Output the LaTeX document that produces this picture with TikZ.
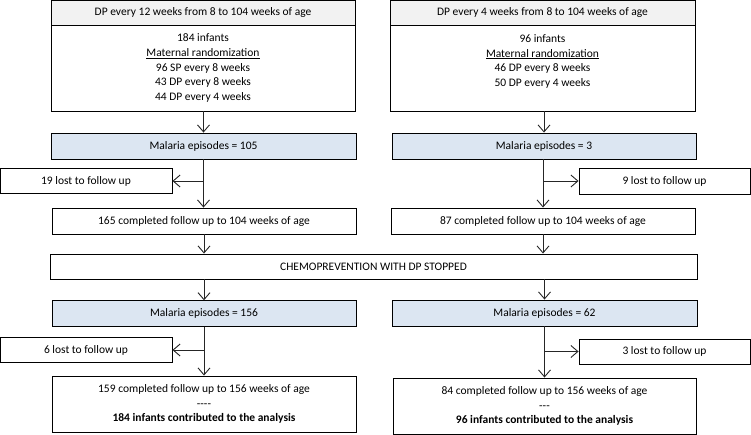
\documentclass[tikz,border=0pt]{standalone}
\usepackage{fontspec}
\setmainfont{Carlito}
\usetikzlibrary{arrows.meta,calc}
\definecolor{hdrgray}{HTML}{F2F2F2}
\definecolor{malblue}{HTML}{DCE6F2}
\begin{document}
\begin{tikzpicture}[x=1pt,y=-1pt,
  box/.style={draw=black,line width=0.9pt,fill=white,inner sep=0pt,align=center,
    font=\fontsize{11.5}{14.8}\selectfont},
  hdr/.style={box,fill=hdrgray},
  mal/.style={box,fill=malblue},
  arr/.style={draw=black!85,line width=0.9pt,-{Straight Barb[length=7pt,width=12pt,line width=0.9pt]}}
]
\useasboundingbox (0,0) rectangle (751,435);
% top
\node[hdr,minimum width=304,minimum height=24.5] (lhdr) at (203,12.8) {DP every 12 weeks from 8 to 104 weeks of age};
\node[box,minimum width=304,minimum height=86] (lbody) at (203,68) {184 infants\\\underline{Maternal randomization}\\96 SP every 8 weeks\\43 DP every 8 weeks\\44 DP every 4 weeks};
\node[hdr,minimum width=305,minimum height=24.5] (rhdr) at (542.5,12.8) {DP every 4 weeks from 8 to 104 weeks of age};
\node[box,minimum width=305,minimum height=86] (rbody) at (542.5,68) {96 infants\\\underline{Maternal randomization}\\46 DP every 8 weeks\\50 DP every 4 weeks\\\mbox{}};
% malaria 1
\node[mal,minimum width=305,minimum height=26] (lmal) at (203.5,146) {Malaria episodes = 105};
\node[mal,minimum width=304,minimum height=26] (rmal) at (544,146) {Malaria episodes = 3};
% lost 1
\node[box,minimum width=172,minimum height=25] (llost) at (86,181) {19 lost to follow up};
\node[box,minimum width=171,minimum height=26] (rlost) at (664.5,181) {9 lost to follow up};
% completed 104
\node[box,minimum width=304,minimum height=26] (l165) at (204,221) {165 completed follow up to 104 weeks of age};
\node[box,minimum width=304,minimum height=26] (r87) at (543,221) {87 completed follow up to 104 weeks of age};
% chemo
\node[box,minimum width=647,minimum height=25] (chemo) at (373.5,266.5) {CHEMOPREVENTION WITH DP STOPPED};
% malaria 2
\node[mal,minimum width=304,minimum height=25.5] (lmal2) at (204,313.5) {Malaria episodes = 156};
\node[mal,minimum width=305,minimum height=26] (rmal2) at (544.5,313) {Malaria episodes = 62};
% lost 2
\node[box,minimum width=172,minimum height=24.5] (llost2) at (86,350) {6 lost to follow up};
\node[box,minimum width=171,minimum height=25] (rlost2) at (664.5,351.5) {3 lost to follow up};
% final
\node[box,minimum width=304,minimum height=56] (lfin) at (204,404) {159 completed follow up to 156 weeks of age\\{-}{-}{-}{-}\\\textbf{184 infants contributed to the analysis}};
\node[box,minimum width=303,minimum height=56] (rfin) at (544.5,406) {84 completed follow up to 156 weeks of age\\{-}{-}{-}\\\textbf{96 infants contributed to the analysis}};
% arrows left
\draw[arr] (lbody.south -| lmal.north) -- (lmal.north);
\draw[arr] (lmal.south) -- (lmal.south |- l165.north);
\draw[arr] (lmal.south |- llost.east) -- (llost.east);
\draw[arr] (l165.south) -- (l165.south |- chemo.north);
\draw[arr] (chemo.south -| lmal2.north) -- (lmal2.north);
\draw[arr] (lmal2.south) -- (lmal2.south |- lfin.north);
\draw[arr] (lmal2.south |- llost2.east) -- (llost2.east);
% arrows right
\draw[arr] (rbody.south -| rmal.north) -- (rmal.north);
\draw[arr] (rmal.south -| r87.north) -- (r87.north);
\draw[arr] (rmal.south |- rlost.west) -- (rlost.west);
\draw[arr] (r87.south) -- (r87.south |- chemo.north);
\draw[arr] (chemo.south -| rmal2.north) -- (rmal2.north);
\draw[arr] (rmal2.south) -- (rmal2.south |- rfin.north);
\draw[arr] (rmal2.south |- rlost2.west) -- (rlost2.west);
\end{tikzpicture}
\end{document}
